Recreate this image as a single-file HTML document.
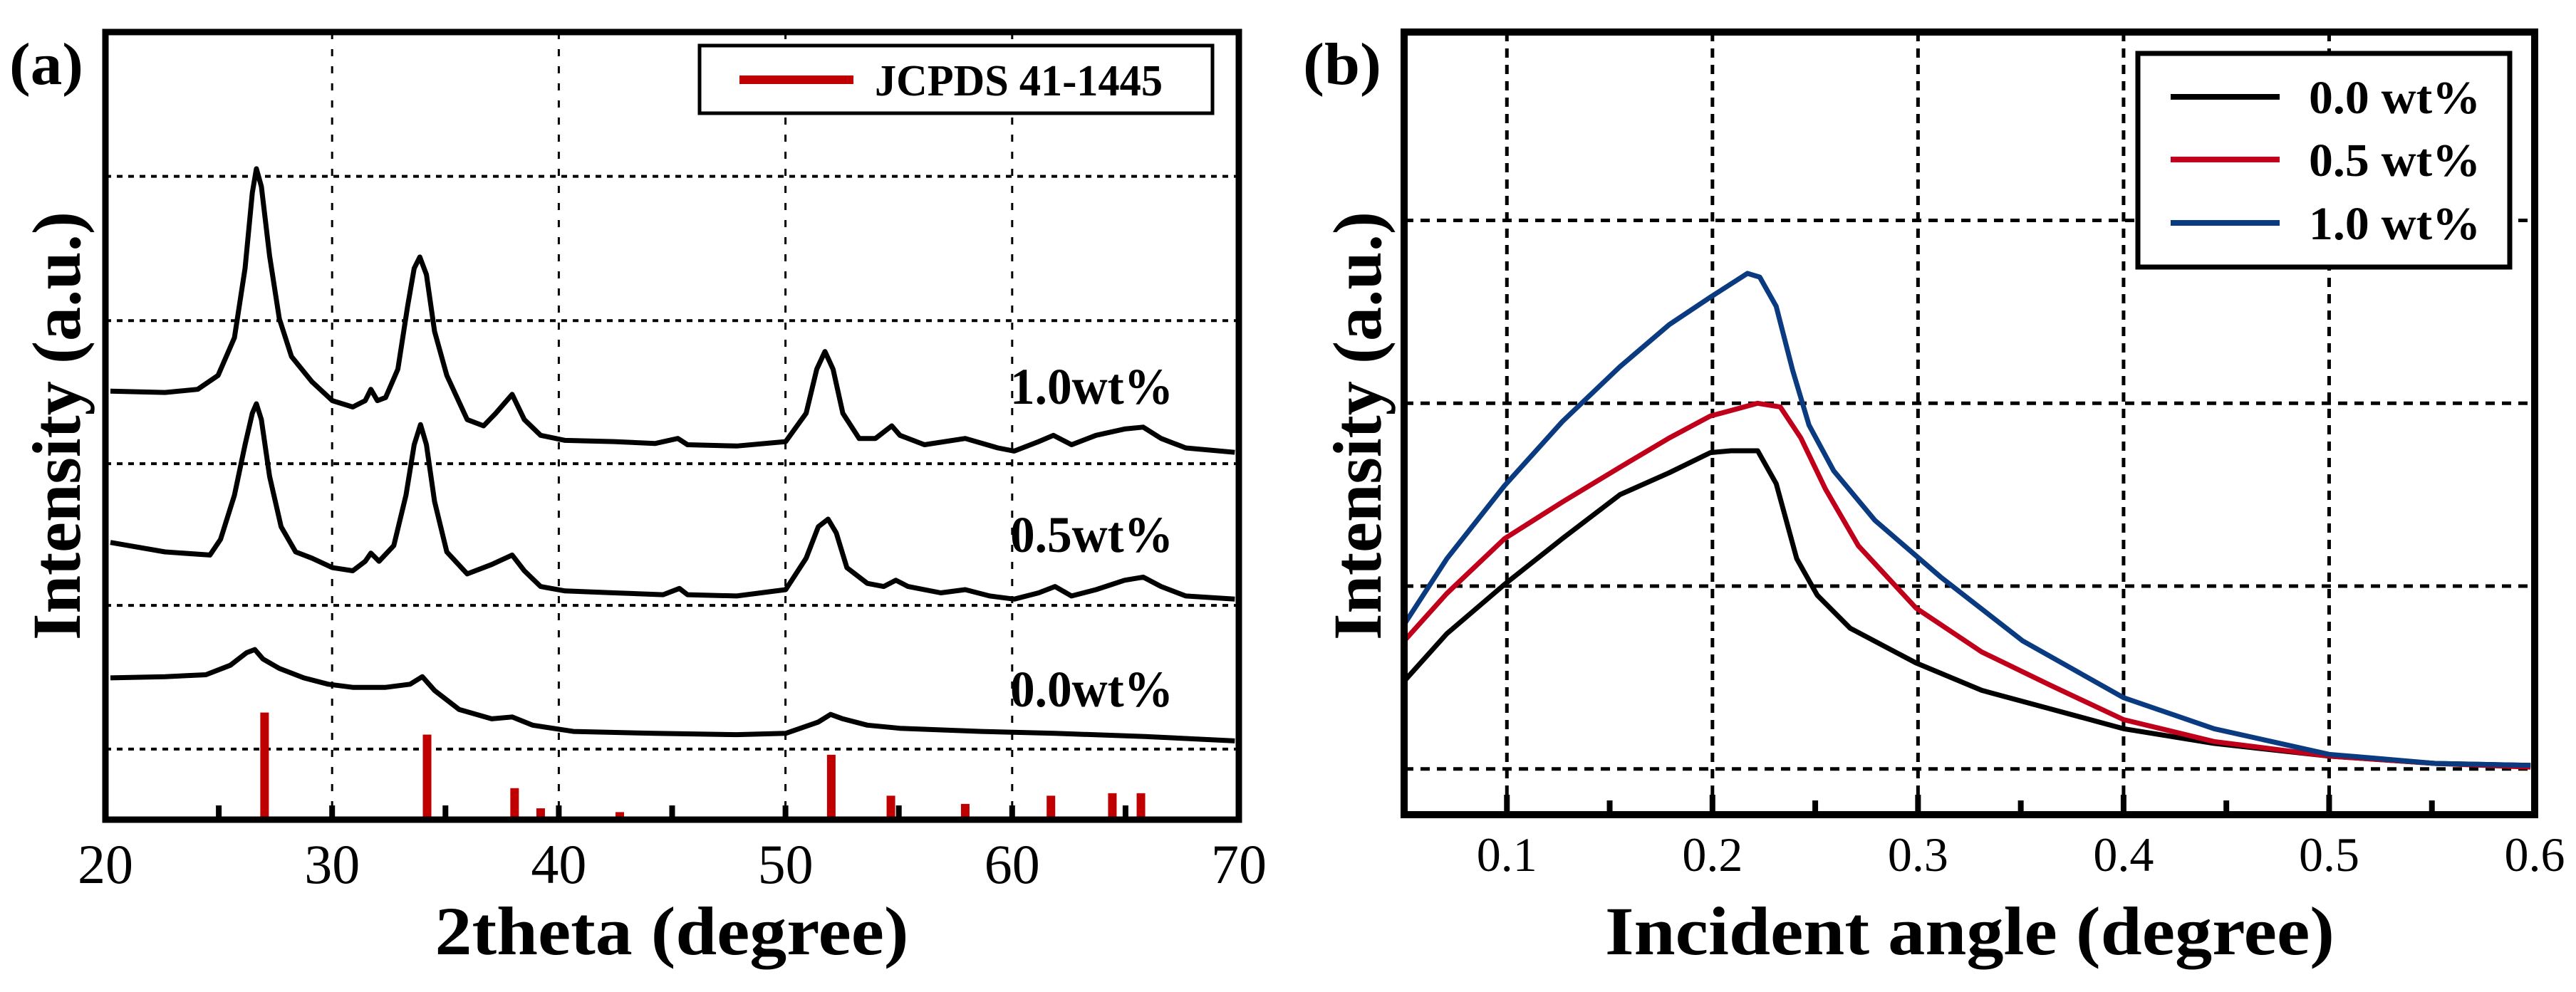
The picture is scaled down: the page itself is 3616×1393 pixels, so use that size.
<!DOCTYPE html>
<html><head><meta charset="utf-8"><style>
html,body{margin:0;padding:0;background:#fff;}
svg{display:block;}
text{font-family:"Liberation Serif",serif;fill:#000;}
</style></head><body>
<svg id="fig" width="3616" height="1393" viewBox="0 0 3616 1393" xmlns="http://www.w3.org/2000/svg">
<g id="pa"></g>
<g id="pb"></g>
</svg>
<script>
// ---------- Panel (a) data ----------
const aXTicks = [20, 30, 40, 50, 60, 70];
const aXMinor = [25, 35, 45, 55, 65];
const aGridY = [11.7, 34.5, 57.0, 79.7, 102.6];
const a10x = [20.22,22.63,24.07,24.97,25.69,26.16,26.48,26.66,26.88,27.24,27.67,28.21,29.11,30.01,30.91,31.46,31.71,32.00,32.36,32.90,33.33,33.62,33.87,34.16,34.52,35.06,35.96,36.68,37.22,37.94,38.48,39.20,40.28,42.44,44.24,45.25,45.68,47.85,50.01,50.91,51.38,51.74,52.10,52.53,53.25,53.97,54.69,55.05,56.13,57.93,59.37,60.09,61.17,61.82,62.62,63.70,64.96,65.78,66.57,67.66,69.82];
const a10y = [68.5,68.3,68.8,71.0,77.0,88.0,100.0,103.8,101.0,90.0,80.0,74.0,70.0,67.0,66.0,67.0,68.8,67.0,67.5,72.0,82.0,88.0,89.8,87.0,78.0,71.0,64.0,63.0,65.0,68.0,64.0,61.5,60.7,60.5,60.2,61.0,60.0,59.8,60.5,65.0,72.0,74.8,72.0,65.0,61.0,61.0,63.0,61.5,60.0,61.0,59.5,59.0,60.5,61.5,60.0,61.5,62.5,62.8,61.0,59.5,58.8];
const a05x = [20.22,22.63,24.61,25.08,25.69,26.16,26.48,26.66,26.88,27.24,27.75,28.39,29.11,30.01,30.91,31.46,31.71,32.07,32.72,33.26,33.62,33.90,34.16,34.52,35.06,35.96,37.04,37.94,38.48,39.20,40.28,42.44,44.60,45.32,45.68,47.85,50.01,50.91,51.45,51.88,52.24,52.71,53.61,54.33,54.87,55.41,56.85,57.93,59.01,60.09,61.17,61.89,62.62,63.70,64.96,65.78,66.57,67.66,69.82];
const a05y = [44.5,43.0,42.5,45.0,52.0,60.0,65.0,66.5,64.0,55.0,47.0,43.0,42.0,40.5,40.0,41.5,42.8,41.5,44.0,52.0,60.0,63.2,60.0,51.0,43.0,39.5,41.0,42.5,40.0,37.5,36.8,36.5,36.2,37.2,36.2,36.0,37.0,42.0,47.0,48.2,46.0,40.5,38.0,37.5,38.5,37.5,36.5,37.0,36.0,35.5,36.5,37.5,36.0,37.0,38.5,39.0,37.5,36.0,35.5];
const a00x = [20.22,22.63,24.43,25.51,26.23,26.59,26.95,27.67,28.75,29.83,30.91,32.36,33.44,33.98,34.52,35.60,37.04,37.94,38.84,40.64,44.24,47.85,50.01,51.45,51.99,52.53,53.61,55.05,58.65,61.89,65.86,69.82];
const a00y = [23.0,23.2,23.5,25.0,27.0,27.5,26.0,24.5,23.0,22.0,21.5,21.5,22.0,23.2,21.0,18.0,16.5,16.8,15.5,14.5,14.2,14.0,14.2,16.0,17.2,16.5,15.5,15.0,14.5,14.2,13.7,13.0];
const refX = [27.02,34.19,38.05,39.20,42.69,52.02,54.65,57.93,61.71,64.42,65.68];
const refI = [17.0,13.5,5.0,1.8,1.2,10.3,3.8,2.5,3.8,4.2,4.2];

// ---------- Panel (b) data ----------
const bXTicks = [0.1, 0.2, 0.3, 0.4, 0.5, 0.6];
const bXTickLabels = ["0.1","0.2","0.3","0.4","0.5","0.6"];
const bXMinor = [0.15, 0.25, 0.35, 0.45, 0.55];
const bGridY = [1, 2, 3, 4];
const b00x = [0.05,0.0708,0.0989,0.127,0.155,0.179,0.199,0.209,0.222,0.231,0.241,0.251,0.267,0.299,0.331,0.364,0.400,0.444,0.500,0.552,0.598];
const b00y = [1.48,1.74,2.01,2.26,2.50,2.62,2.73,2.74,2.74,2.56,2.15,1.95,1.77,1.58,1.43,1.33,1.22,1.14,1.07,1.03,1.02];
const b05x = [0.05,0.0708,0.0989,0.127,0.155,0.179,0.199,0.222,0.233,0.243,0.255,0.271,0.299,0.331,0.364,0.400,0.444,0.500,0.552,0.598];
const b05y = [1.70,1.96,2.26,2.46,2.65,2.81,2.93,3.00,2.98,2.81,2.53,2.22,1.88,1.64,1.46,1.27,1.15,1.07,1.03,1.01];
const b10x = [0.05,0.0708,0.0989,0.127,0.155,0.179,0.199,0.217,0.223,0.231,0.239,0.247,0.259,0.279,0.311,0.351,0.400,0.444,0.500,0.552,0.598];
const b10y = [1.79,2.15,2.55,2.90,3.20,3.43,3.58,3.71,3.69,3.53,3.18,2.88,2.63,2.36,2.05,1.70,1.39,1.22,1.08,1.03,1.02];

const NS = "http://www.w3.org/2000/svg";
function mk(parent, tag, attrs, txt) {
  const e = document.createElementNS(NS, tag);
  for (const k in attrs) e.setAttribute(k, attrs[k]);
  if (txt !== undefined) e.textContent = txt;
  parent.appendChild(e);
  return e;
}
function lin(d0, d1, r0, r1) { return v => r0 + (v - d0) / (d1 - d0) * (r1 - r0); }
function pathFrom(xs, ys, sx, sy) {
  return xs.map((x, i) => (i ? "L" : "M") + sx(x).toFixed(1) + "," + sy(ys[i]).toFixed(1)).join(" ");
}

// ===== Panel A =====
const pa = document.getElementById("pa");
const aL = 148, aR = 1739, aT = 45, aB = 1151;
const ax = lin(20, 70, aL, aR);
const ay = lin(0.5, 125.5, aB, aT);

aXTicks.slice(1, -1).forEach(v => {
  const g = mk(pa, "line", {x1: ax(v), x2: ax(v), y1: aT, y2: aB, stroke: "#000", "stroke-width": 3, "stroke-dasharray": "10 14"});
  
  
});
aGridY.forEach(v => {
  const g = mk(pa, "line", {x1: aL, x2: aR, y1: ay(v), y2: ay(v), stroke: "#000", "stroke-width": 4, "stroke-dasharray": "8 8"});
  
  
});
refX.forEach((v, i) => {
  const r = mk(pa, "rect", {x: ax(v) - 6, y: ay(0.5 + refI[i]), width: 12, height: ay(0.5) - ay(0.5 + refI[i]), fill: "#c00000"});
  
  
});
aXTicks.concat(aXMinor).forEach(v => {
  const t = mk(pa, "line", {x1: ax(v), x2: ax(v), y1: aB, y2: aB - 20, stroke: "#000", "stroke-width": 8});
  
  
});
[[a00x, a00y, "curve-0-0wt"], [a05x, a05y, "curve-0-5wt"], [a10x, a10y, "curve-1-0wt"]].forEach(s => {
  const p = mk(pa, "path", {d: pathFrom(s[0], s[1], ax, ay), fill: "none", stroke: "#000", "stroke-width": 7, "stroke-linejoin": "round"});
  
  
});
const fa = mk(pa, "rect", {x: aL, y: aT, width: aR - aL, height: aB - aT, fill: "none", stroke: "#000", "stroke-width": 9});


aXTicks.forEach(v => {
  const t = mk(pa, "text", {x: ax(v), y: 1240, "font-size": 78, "text-anchor": "middle"}, String(v));
  
  
});
[["1.0wt%", 567], ["0.5wt%", 775], ["0.0wt%", 992]].forEach(c => {
  const t = mk(pa, "text", {x: 1418, y: c[1], "font-size": 72, "font-weight": "bold", textLength: 229, lengthAdjust: "spacingAndGlyphs"}, c[0]);
  
  
});
const lga = mk(pa, "g", {});


mk(lga, "rect", {x: 982, y: 64, width: 720, height: 95, fill: "#fff", stroke: "#000", "stroke-width": 5});
mk(lga, "line", {x1: 1038, x2: 1198, y1: 112, y2: 112, stroke: "#c00000", "stroke-width": 12});
mk(lga, "text", {x: 1228, y: 134, "font-size": 62, "font-weight": "bold", textLength: 404, lengthAdjust: "spacingAndGlyphs"}, "JCPDS 41-1445");
const xta = mk(pa, "text", {x: 943, y: 1340, "font-size": 96, "font-weight": "bold", "text-anchor": "middle", textLength: 665, lengthAdjust: "spacingAndGlyphs"}, "2theta (degree)");


const yta = mk(pa, "text", {x: 0, y: 0, "font-size": 96, "font-weight": "bold", "text-anchor": "middle", textLength: 602, lengthAdjust: "spacingAndGlyphs", transform: "translate(112,598) rotate(-90)"}, "Intensity (a.u.)");


const pla = mk(pa, "text", {x: 13, y: 118, "font-size": 84, "font-weight": "bold", textLength: 104, lengthAdjust: "spacingAndGlyphs"}, "(a)");



// ===== Panel B =====
const pb = document.getElementById("pb");
const bL = 1971, bR = 3558, bT = 45, bB = 1144;
const bx = lin(0.05, 0.6, bL, bR);
const by = lin(0.75, 5.03, bB, bT);

bXTicks.slice(0, -1).forEach(v => {
  const g = mk(pb, "line", {x1: bx(v), x2: bx(v), y1: bT, y2: bB, stroke: "#000", "stroke-width": 5, "stroke-dasharray": "13 10"});
  
  
});
bGridY.forEach(v => {
  const g = mk(pb, "line", {x1: bL, x2: bR, y1: by(v), y2: by(v), stroke: "#000", "stroke-width": 5, "stroke-dasharray": "13 10"});
  
  
});
bXTicks.forEach(v => {
  const t = mk(pb, "line", {x1: bx(v), x2: bx(v), y1: bB, y2: bB - 28, stroke: "#000", "stroke-width": 8});
  
  
});
bXMinor.forEach(v => {
  const t = mk(pb, "line", {x1: bx(v), x2: bx(v), y1: bB, y2: bB - 20, stroke: "#000", "stroke-width": 8});
  
  
});
[[b00x, b00y, "#000000", "curve-b-0-0wt"], [b05x, b05y, "#c0001a", "curve-b-0-5wt"], [b10x, b10y, "#0a3a80", "curve-b-1-0wt"]].forEach(s => {
  const p = mk(pb, "path", {d: pathFrom(s[0], s[1], bx, by), fill: "none", stroke: s[2], "stroke-width": 7, "stroke-linejoin": "round"});
  
  
});
const fb = mk(pb, "rect", {x: bL, y: bT, width: bR - bL, height: bB - bT, fill: "none", stroke: "#000", "stroke-width": 10});


bXTicks.forEach((v, i) => {
  const t = mk(pb, "text", {x: bx(v), y: 1223, "font-size": 68, "text-anchor": "middle"}, bXTickLabels[i]);
  
  
});
const lgb = mk(pb, "g", {});


mk(lgb, "rect", {x: 3001, y: 75, width: 522, height: 300, fill: "#fff", stroke: "#000", "stroke-width": 7});
[["0.0 wt%", "#000000", 136], ["0.5 wt%", "#c0001a", 224], ["1.0 wt%", "#0a3a80", 313]].forEach(e => {
  const g = mk(lgb, "g", {});
  
  
  mk(g, "line", {x1: 3047, x2: 3200, y1: e[2], y2: e[2], stroke: e[1], "stroke-width": 8});
  mk(g, "text", {x: 3241, y: e[2] + 23, "font-size": 66, "font-weight": "bold", textLength: 241, lengthAdjust: "spacingAndGlyphs"}, e[0]);
});
const xtb = mk(pb, "text", {x: 2765, y: 1340, "font-size": 96, "font-weight": "bold", "text-anchor": "middle", textLength: 1024, lengthAdjust: "spacingAndGlyphs"}, "Incident angle (degree)");


const ytb = mk(pb, "text", {x: 0, y: 0, "font-size": 96, "font-weight": "bold", "text-anchor": "middle", textLength: 602, lengthAdjust: "spacingAndGlyphs", transform: "translate(1938,598) rotate(-90)"}, "Intensity (a.u.)");


const plb = mk(pb, "text", {x: 1829, y: 118, "font-size": 84, "font-weight": "bold", textLength: 110, lengthAdjust: "spacingAndGlyphs"}, "(b)");


</script>
</body></html>
